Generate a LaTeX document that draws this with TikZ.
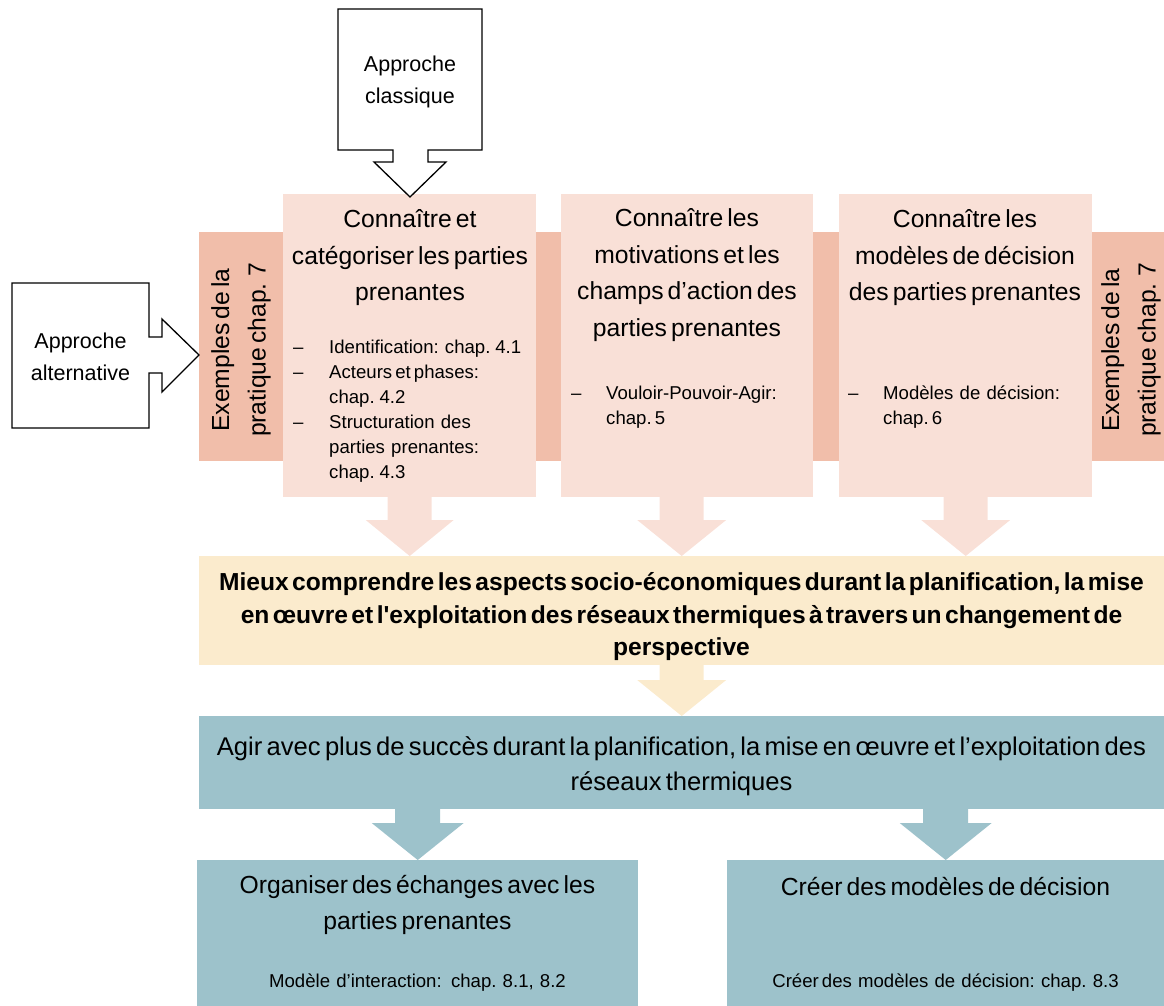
\documentclass[tikz,border=0pt]{standalone}
\usepackage{fontspec}
\setmainfont{Liberation Sans}[WordSpace=0.6]
\newfontfamily\yfont{Liberation Sans}[Ligatures=TeXOff, WordSpace=0.5]
\usetikzlibrary{calc}
\definecolor{pinkL}{HTML}{F9E0D7}
\definecolor{salmon}{HTML}{F1BEAA}
\definecolor{yel}{HTML}{FBEBCD}
\definecolor{teal}{HTML}{9DC2CB}
\newcommand\blockarrow[6]{%
  \fill[#1] (#2) -- ++(-#4,-#5) -- ++(#4-#3,0) -- ++(0,-#6) -- ++(2*#3,0) -- ++(0,#6) -- ++(#4-#3,0) -- cycle;}
\begin{document}
\begin{tikzpicture}[x=1pt,y=-1pt,
  panel/.style={fill=#1, draw=none, inner sep=0pt, anchor=north west},
  big/.style={font=\fontsize{24.7}{36.5}\selectfont, align=center, inner sep=0pt},
  mid/.style={font=\fontsize{21.5}{32}\selectfont, align=center, inner sep=0pt},
  small/.style={font=\fontsize{18.6}{25}\selectfont, inner sep=0pt},
  outline/.style={draw=black, line width=1.3pt, fill=white, line join=miter}]
\useasboundingbox (0,0) rectangle (1164,1006);
% band
\node[panel=salmon, minimum width=965pt, minimum height=229pt] (band) at (199,232) {};
% boxes
\node[panel=pinkL, minimum width=253pt, minimum height=303pt] (k1) at (283,194) {};
\node[panel=pinkL, minimum width=252pt, minimum height=303pt] (k2) at (561,194) {};
\node[panel=pinkL, minimum width=253pt, minimum height=303pt] (k3) at (839,194) {};
\node[panel=yel, minimum width=965pt, minimum height=109pt] (yb) at (199,556) {};
\node[panel=teal, minimum width=965pt, minimum height=93pt] (tb) at (199,716) {};
\node[panel=teal, minimum width=441pt, minimum height=146pt] (bl) at (197,860) {};
\node[panel=teal, minimum width=437pt, minimum height=146pt] (br) at (727,860) {};
% block arrows
\blockarrow{pinkL}{k1.south |- yb.north}{22}{44}{36}{24}
\blockarrow{pinkL}{yb.north}{22}{44.5}{36}{24}
\blockarrow{pinkL}{k3.south |- yb.north}{22}{44.5}{36}{24}
\blockarrow{yel}{tb.north}{22}{44.5}{36}{16}
\blockarrow{teal}{bl.north}{22.5}{46}{37}{15}
\blockarrow{teal}{br.north}{22.5}{46}{37}{15}
% outlined callouts
\draw[outline] (338,9) -- (482,9) -- (482,150) -- (428,150) -- (428,162) -- (446,162) -- (410,197)
  -- (374,162) -- (393,162) -- (393,150) -- (338,150) -- cycle;
\node[mid] (cl) at (410,82) {Approche\\classique};
\draw[outline] (12,283) -- (149,283) -- (149,337) -- (162,337) -- (162,319) -- (199,355)
  -- (162,392) -- (162,373) -- (149,373) -- (149,428) -- (12,428) -- cycle;
\node[mid] (al) at (80.5,357) {Approche\\alternative};
% vertical labels
\node[big, rotate=90] (ex1) at (241,350) {Exemples de la\\pratique chap. 7};
\node[big, rotate=90] (ex2) at (1131,350) {Exemples de la\\pratique chap. 7};
% titles
\node[big] (t1) at (410,258) {Connaître et\\catégoriser les parties\\prenantes};
\node[big] (t2) at (687,275) {Connaître les\\motivations et les\\champs d’action des\\parties prenantes};
\node[big] (t3) at (965,258) {Connaître les\\modèles de décision\\des parties prenantes};
% bullets
\node[small, anchor=base west] (b1) at (293,353) {\begin{tabular}[t]{@{}p{36pt}@{}l@{}}
– & Identification:\ \ chap. 4.1\\
– & Acteurs et phases:\\
  & chap. 4.2\\
– & Structuration\ \ des\\
  & parties\ \ prenantes:\\
  & chap. 4.3
\end{tabular}};
\node[small, anchor=base west] (b2) at (571,399) {\begin{tabular}[t]{@{}p{35pt}@{}l@{}}
– & Vouloir-Pouvoir-Agir:\\
  & chap.\ 5
\end{tabular}};
\node[small, anchor=base west] (b3) at (848,399) {\begin{tabular}[t]{@{}p{35pt}@{}l@{}}
– & Modèles\ \ de\ \ décision:\\
  & chap.\ 6
\end{tabular}};
% yellow
\node[font=\yfont\bfseries\fontsize{24.6}{32.5}\selectfont, align=center, inner sep=0pt] (ytxt) at (681.5,617)
 {Mieux comprendre les aspects socio-économiques durant la planification, la mise\\en œuvre et l'exploitation des réseaux thermiques à travers un changement de\\perspective};
\node[big, font=\fontsize{25.6}{35}\selectfont] (ttxt) at (681.5,766)
 {Agir avec plus de succès durant la planification, la mise en œuvre et l’exploitation des\\réseaux thermiques};
\node[big] (bltxt) at (417.5,905) {Organiser des échanges avec les\\parties prenantes};
\node[big] (brtxt) at (945.5,887) {Créer des modèles de décision};
\node[small] (bls) at (417.5,983) {Modèle\ \ d’interaction:\ \ \ chap.\ \ 8.1,\ \ 8.2};
\node[small] (brs) at (945.5,983) {Créer des\ \ modèles\ \ de\ \ décision:\ \ chap.\ \ 8.3};
\end{tikzpicture}
\end{document}
